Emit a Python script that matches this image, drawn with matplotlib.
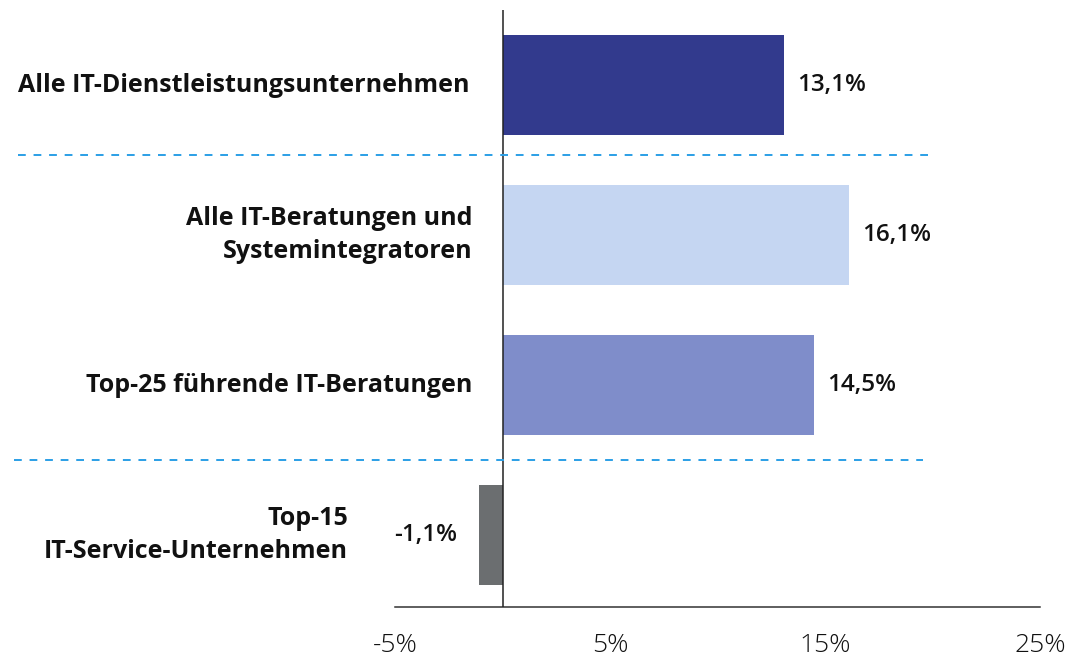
import matplotlib
matplotlib.use("Agg")
import matplotlib.pyplot as plt
from matplotlib.lines import Line2D

categories = ["Alle IT-Dienstleistungsunternehmen",
              "Alle IT-Beratungen und\nSystemintegratoren",
              "Top-25 führende IT-Beratungen",
              "Top-15\nIT-Service-Unternehmen"]
values = [13.1, 16.1, 14.5, -1.1]
value_labels = ["13,1%", "16,1%", "14,5%", "-1,1%"]
colors = ["#323a8d", "#c5d6f2", "#7f8dca", "#6b6e70"]
tick_vals = [-5, 5, 15, 25]
tick_labels = ["-5%", "5%", "15%", "25%"]

plt.rcParams['font.family'] = ['Open Sans', 'DejaVu Sans']

fig = plt.figure(figsize=(10.71, 6.62), dpi=100)
ax = fig.add_axes([395/1071, 1 - 607/662, (1040 - 395)/1071, (607 - 10)/662])

ypos = list(range(len(categories)))
ax.barh(ypos, values, height=0.667, color=colors, zorder=2)
ax.set_xlim(-5, 25)
ax.set_ylim(3.48, -0.5)

ax.axvline(0, color="#222222", lw=1.1, zorder=3)
for s in ["top", "right", "left"]:
    ax.spines[s].set_visible(False)
ax.spines["bottom"].set_color("#333333")
ax.spines["bottom"].set_linewidth(1.1)

ax.set_yticks([])
ax.set_xticks(tick_vals)
ax.set_xticklabels(tick_labels, fontsize=19, fontweight="light", color="#111111")
ax.tick_params(axis="x", length=0, pad=19)

for y, v, lab in zip(ypos, values, value_labels):
    if v >= 0:
        ax.text(v + 0.62, y, lab, ha="left", va="center", fontsize=17.5,
                fontweight="semibold", color="#111111")
    else:
        ax.text(v - 1.0, y, lab, ha="right", va="center", fontsize=17.5,
                fontweight="semibold", color="#111111")

# category labels in figure pixel coords
label_x = [470, 472, 472, 348]
for y, cat, lx in zip(ypos, categories, label_x):
    yfig = ax.transData.transform((0, y))[1]
    fig.text(lx / 1071, yfig / 662, cat, ha="right", va="center", fontsize=18,
             fontweight="bold", color="#111111", linespacing=1.45,
             multialignment="right")

# dashed separators
for ysep, x0, x1 in [(155, 18, 929), (460, 14, 923)]:
    fig.add_artist(Line2D([x0/1071, x1/1071], [1 - ysep/662, 1 - ysep/662],
                          transform=fig.transFigure, color="#2b9fe6",
                          lw=1.4, ls=(0, (4, 4))))

fig.savefig("out.png", dpi=100)
